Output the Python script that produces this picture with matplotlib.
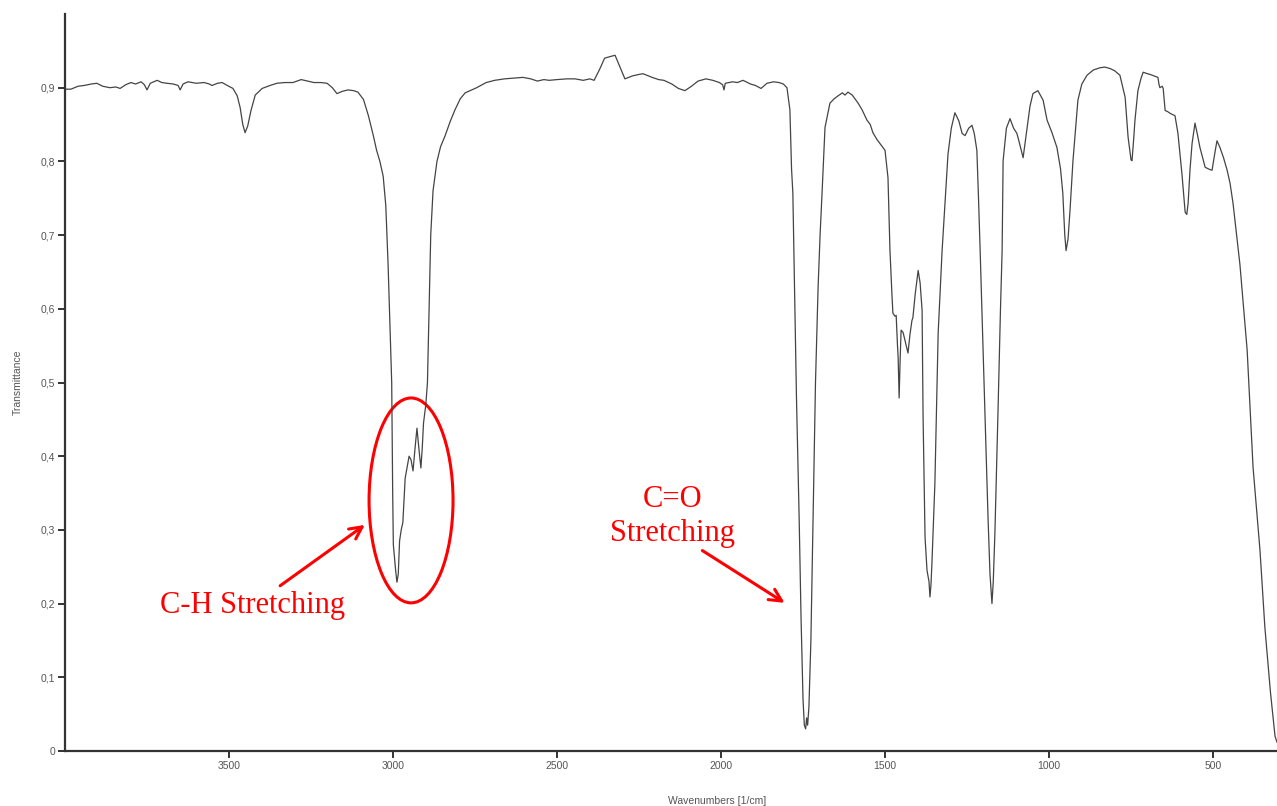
import matplotlib
matplotlib.use("Agg")
import matplotlib.pyplot as plt
from matplotlib.patches import Ellipse
from matplotlib.ticker import FuncFormatter

# IR spectrum: wavenumber [1/cm], transmittance
wavenumber = [
    3998, 3982, 3960, 3942, 3920, 3903, 3885, 3863, 3845, 3832, 3815, 3799, 3785, 3768,
    3758, 3750, 3740, 3719, 3705, 3689, 3670, 3655, 3649, 3640, 3625, 3600, 3576, 3560,
    3552, 3535, 3521, 3505, 3488, 3475, 3466, 3458, 3451, 3443, 3433, 3420, 3399, 3375,
    3354, 3330, 3305, 3280, 3260, 3241, 3220, 3201, 3185, 3171, 3155, 3137, 3120, 3107,
    3090, 3075, 3060, 3050, 3040, 3030, 3022, 3015, 3009, 3004, 3003, 3001, 2999, 2992,
    2988, 2984, 2980, 2975, 2970, 2963, 2951, 2945, 2939, 2933, 2927, 2921, 2915, 2911,
    2907, 2900, 2895, 2890, 2885, 2878, 2866, 2855, 2841, 2825, 2811, 2795, 2780, 2765,
    2745, 2716, 2690, 2660, 2630, 2604, 2580, 2560, 2540, 2524, 2500, 2470, 2445, 2420,
    2400, 2387, 2370, 2355, 2340, 2323, 2310, 2293, 2270, 2250, 2238, 2210, 2190, 2174,
    2150, 2130, 2110, 2090, 2070, 2046, 2025, 2005, 1995, 1991, 1987, 1965, 1950, 1933,
    1910, 1895, 1878, 1860, 1840, 1823, 1810, 1799, 1790, 1785, 1781, 1778, 1770, 1762,
    1756, 1750, 1746, 1742, 1739, 1736, 1732, 1726, 1718, 1712, 1704, 1698, 1692, 1683,
    1668, 1655, 1643, 1630, 1622, 1613, 1600, 1582, 1570, 1555, 1545, 1537, 1525, 1515,
    1500, 1491, 1485, 1479, 1476, 1470, 1466, 1462, 1460, 1457, 1454, 1451, 1445, 1438,
    1430, 1424, 1418, 1415, 1408, 1399, 1393, 1387, 1384, 1378, 1372, 1366, 1363, 1360,
    1357, 1348, 1338, 1326, 1315, 1308, 1298, 1287, 1275, 1265, 1256, 1245, 1235, 1228,
    1220, 1215, 1210, 1195, 1186, 1180, 1174, 1170, 1165, 1156, 1148, 1143, 1140, 1130,
    1119, 1108, 1098, 1092, 1079, 1070, 1067, 1058, 1049, 1034, 1018, 1006, 991, 976,
    965, 958, 952, 948, 942, 936, 927, 918, 912, 900, 884, 865, 845, 830,
    814, 800, 784, 775, 768, 759, 750, 747, 742, 738, 729, 720, 713, 700,
    692, 680, 668, 665, 662, 655, 652, 646, 640, 630, 616, 607, 595, 585,
    580, 576, 570, 564, 555, 547, 540, 524, 510, 503, 495, 488, 479, 468,
    457, 448, 439, 424, 418, 396, 378, 357, 342, 325, 311, 305,
]
transmittance = [
    0.898, 0.898, 0.902, 0.903, 0.905, 0.906, 0.902, 0.900, 0.901, 0.899, 0.904, 0.907, 0.905, 0.908,
    0.904, 0.897, 0.906, 0.910, 0.907, 0.906, 0.905, 0.903, 0.897, 0.905, 0.908, 0.906, 0.907, 0.905,
    0.903, 0.906, 0.907, 0.903, 0.899, 0.889, 0.873, 0.850, 0.839, 0.848, 0.869, 0.890, 0.899, 0.903,
    0.906, 0.907, 0.907, 0.911, 0.909, 0.907, 0.907, 0.906, 0.900, 0.892, 0.895, 0.897, 0.896, 0.894,
    0.884, 0.862, 0.835, 0.815, 0.800, 0.780, 0.740, 0.660, 0.570, 0.500, 0.450, 0.350, 0.280, 0.245,
    0.229, 0.240, 0.285, 0.300, 0.310, 0.370, 0.400, 0.395, 0.380, 0.410, 0.438, 0.410, 0.384, 0.410,
    0.445, 0.470, 0.500, 0.600, 0.700, 0.760, 0.800, 0.820, 0.835, 0.855, 0.870, 0.885, 0.893, 0.896,
    0.900, 0.907, 0.910, 0.912, 0.913, 0.914, 0.912, 0.909, 0.911, 0.910, 0.911, 0.912, 0.912, 0.910,
    0.912, 0.910, 0.925, 0.940, 0.942, 0.944, 0.930, 0.912, 0.916, 0.918, 0.919, 0.914, 0.911, 0.910,
    0.905, 0.899, 0.896, 0.902, 0.909, 0.912, 0.910, 0.907, 0.904, 0.897, 0.906, 0.908, 0.907, 0.910,
    0.905, 0.903, 0.899, 0.906, 0.908, 0.907, 0.905, 0.900, 0.870, 0.790, 0.757, 0.680, 0.480, 0.320,
    0.180, 0.070, 0.035, 0.030, 0.045, 0.035, 0.060, 0.150, 0.350, 0.500, 0.630, 0.700, 0.757, 0.846,
    0.879, 0.885, 0.889, 0.893, 0.890, 0.894, 0.890, 0.879, 0.870, 0.856, 0.850, 0.839, 0.830, 0.824,
    0.815, 0.778, 0.680, 0.620, 0.594, 0.590, 0.591, 0.550, 0.534, 0.479, 0.530, 0.571, 0.568, 0.555,
    0.540, 0.565, 0.584, 0.588, 0.620, 0.652, 0.635, 0.598, 0.453, 0.290, 0.245, 0.230, 0.209, 0.225,
    0.255, 0.363, 0.567, 0.679, 0.760, 0.810, 0.845, 0.866, 0.855, 0.838, 0.835, 0.845, 0.849, 0.838,
    0.815, 0.750, 0.679, 0.453, 0.317, 0.240, 0.200, 0.230, 0.296, 0.453, 0.600, 0.679, 0.801, 0.845,
    0.858, 0.845, 0.838, 0.828, 0.805, 0.835, 0.846, 0.875, 0.892, 0.896, 0.883, 0.856, 0.839, 0.819,
    0.790, 0.757, 0.700, 0.679, 0.695, 0.734, 0.801, 0.850, 0.883, 0.905, 0.917, 0.924, 0.927, 0.928,
    0.926, 0.923, 0.917, 0.900, 0.887, 0.833, 0.802, 0.801, 0.830, 0.856, 0.896, 0.912, 0.921, 0.919,
    0.918, 0.916, 0.914, 0.905, 0.900, 0.902, 0.899, 0.869, 0.868, 0.865, 0.862, 0.838, 0.784, 0.731,
    0.728, 0.743, 0.790, 0.824, 0.852, 0.835, 0.819, 0.792, 0.789, 0.788, 0.810, 0.828, 0.819, 0.805,
    0.788, 0.770, 0.743, 0.683, 0.660, 0.544, 0.385, 0.273, 0.168, 0.080, 0.020, 0.012,
]

x_ticks = [3500, 3000, 2500, 2000, 1500, 1000, 500]
y_ticks = [0, 0.1, 0.2, 0.3, 0.4, 0.5, 0.6, 0.7, 0.8, 0.9]

plt.rcParams['font.family'] = ['Liberation Sans', 'DejaVu Sans']

fig = plt.figure(figsize=(12.77, 8.06), dpi=100)
ax = fig.add_axes([65 / 1277, 55 / 806, 1212 / 1277, 737 / 806])

ax.plot(wavenumber, transmittance, color='#444444', lw=0.9)

ax.set_xlim(4000, 305)
ax.set_ylim(0, 1.0)
ax.set_xticks(x_ticks)
ax.set_yticks(y_ticks)
ax.yaxis.set_major_formatter(FuncFormatter(
    lambda v, pos: '0' if v == 0 else f'{v:.1f}'.replace('.', ',')))

for side in ['top', 'right']:
    ax.spines[side].set_visible(False)
for side in ['left', 'bottom']:
    ax.spines[side].set_color('#333333')
    ax.spines[side].set_linewidth(1.6)
ax.tick_params(length=5, width=1.4, color='#333333', labelsize=7.5,
               labelcolor='#555555', pad=2)

ax.set_xlabel('Wavenumbers [1/cm]', fontsize=7.5, color='#555555')
ax.set_ylabel('Transmittance', fontsize=7.5, color='#555555')
ax.xaxis.set_label_coords(0.538, -0.061)
ax.yaxis.set_label_coords(-0.035, 0.5)

# annotations
red = '#ff0000'
ax.add_patch(Ellipse((2945, 0.34), 256, 0.278, fill=False, edgecolor=red, lw=2.2))
ax.annotate('', xy=(3079, 0.309), xytext=(3351, 0.222),
            arrowprops=dict(arrowstyle='->', color=red, lw=2.2, mutation_scale=22))
ax.text(3427, 0.197, 'C-H Stretching', color=red, fontsize=22,
        family='Liberation Serif', ha='center', va='center')

ax.annotate('', xy=(1799, 0.199), xytext=(2064, 0.274),
            arrowprops=dict(arrowstyle='->', color=red, lw=2.2, mutation_scale=22))
ax.text(2149, 0.318, 'C=O\nStretching', color=red, fontsize=22,
        family='Liberation Serif', ha='center', va='center', linespacing=1.2)

fig.savefig('out.png', dpi=100)
